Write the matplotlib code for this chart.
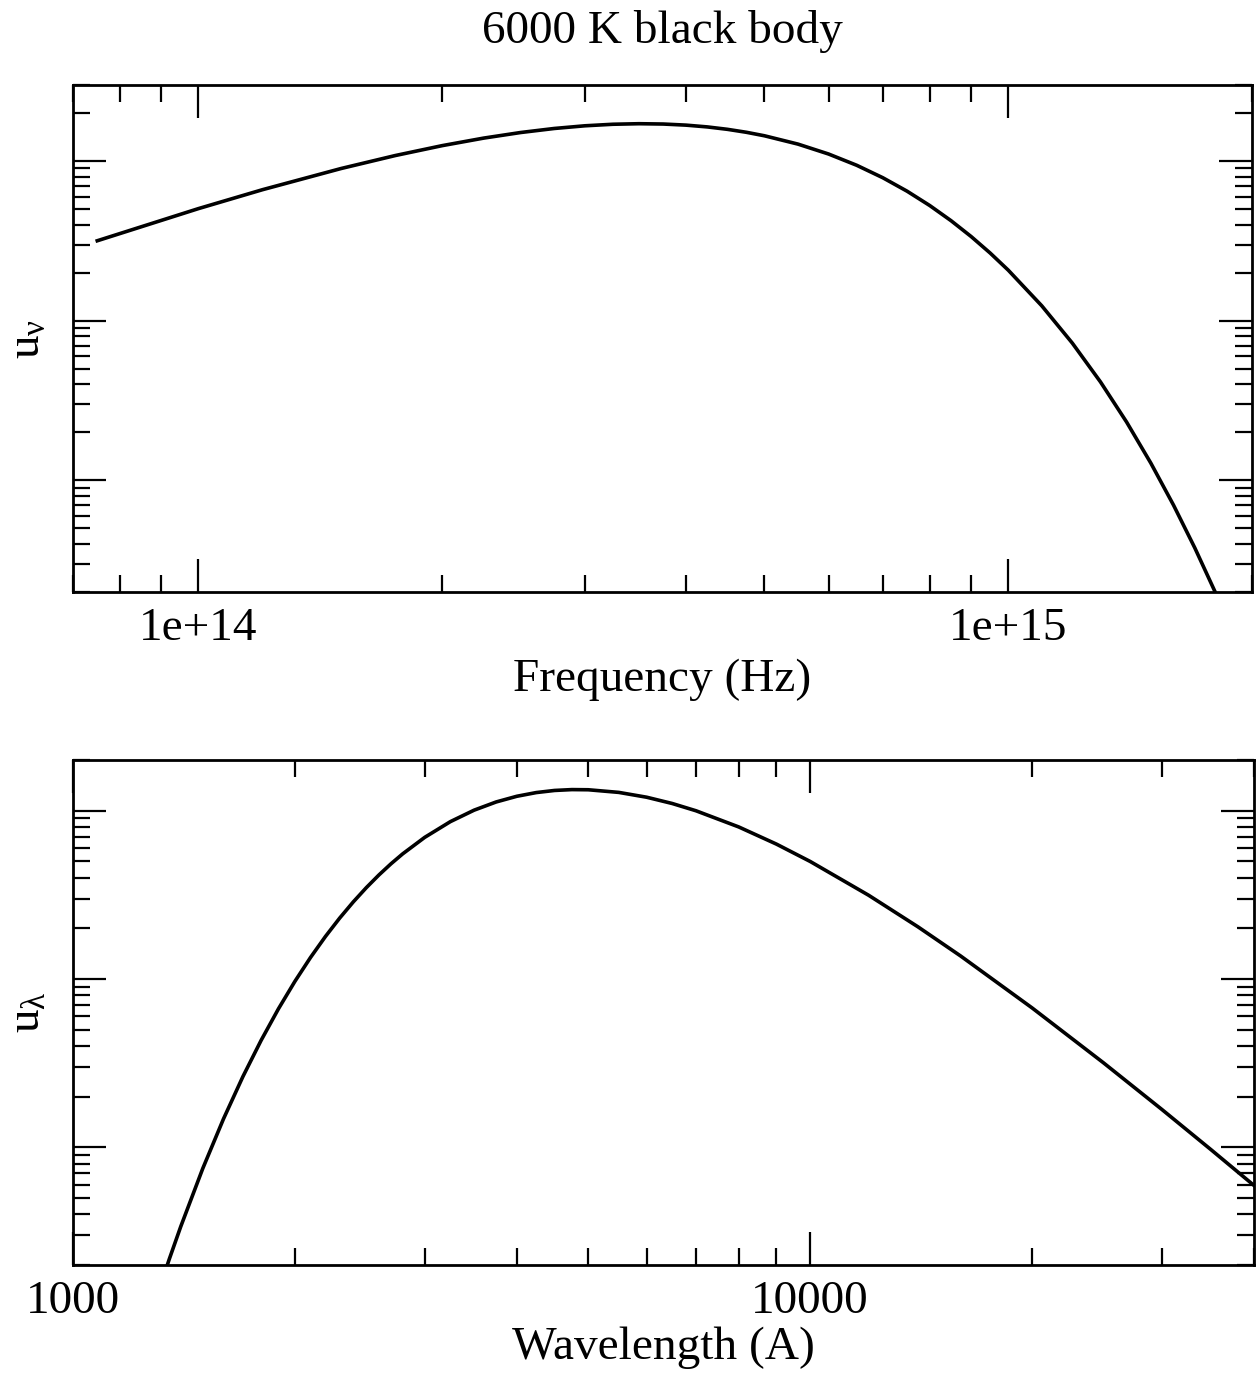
import matplotlib
matplotlib.use("Agg")
import matplotlib.pyplot as plt
from matplotlib.ticker import LogLocator, NullFormatter, FixedFormatter, FixedLocator

# ---------------- data ----------------
freq_hz = [7.5e13, 1.0e14, 1.2e14, 1.5e14, 1.75e14, 2.0e14, 2.25e14, 2.5e14,
           2.75e14, 3.0e14, 3.25e14, 3.5e14, 3.75e14, 4.0e14, 4.25e14, 4.5e14,
           4.75e14, 5.0e14, 5.5e14, 6.0e14, 6.5e14, 7.0e14, 7.5e14, 8.0e14,
           8.5e14, 9.0e14, 9.5e14, 1.0e15, 1.1e15, 1.2e15, 1.3e15, 1.4e15,
           1.5e15, 1.6e15, 1.7e15, 1.8e15, 1.9e15]
u_nu = [3.172e-16, 5.044e-16, 6.628e-16, 8.992e-16, 1.0844e-15, 1.2511e-15,
        1.3945e-15, 1.5119e-15, 1.6022e-15, 1.6654e-15, 1.7029e-15, 1.7164e-15,
        1.7084e-15, 1.6816e-15, 1.6388e-15, 1.5829e-15, 1.5165e-15, 1.4422e-15,
        1.2789e-15, 1.1085e-15, 9.422e-16, 7.875e-16, 6.485e-16, 5.272e-16,
        4.236e-16, 3.370e-16, 2.6562e-16, 2.0765e-16, 1.2418e-16, 7.244e-17,
        4.139e-17, 2.3230e-17, 1.2840e-17, 7.003e-18, 3.775e-18, 2.0135e-18,
        1.0642e-18]

wavelength_A = [1300, 1350, 1400, 1500, 1600, 1700, 1800, 1900, 2000, 2100,
                2200, 2300, 2400, 2500, 2600, 2700, 2800, 3000, 3250, 3500,
                3750, 4000, 4250, 4500, 4750, 5000, 5500, 6000, 6500, 7000,
                8000, 9000, 10000, 12000, 14000, 16000, 20000, 25000, 30000,
                35000, 40000]
u_lambda = [1311.3, 2149.9, 3380.3, 7499.9, 14751, 26307, 43279, 66587,
            96842, 134298, 178852, 230021, 287096, 349108, 414984, 483555,
            553663, 694158, 860592, 1.00682e6, 1.12657e6, 1.21770e6, 1.28088e6,
            1.31855e6, 1.33407e6, 1.33115e6, 1.28410e6, 1.20202e6, 1.10295e6,
            998694, 800447, 632884, 499213, 314648, 204259, 136976, 67342,
            31762, 16785, 9659.7, 5937.1]

freq_ticks = [1e14, 1e15]
freq_tick_labels = ["1e+14", "1e+15"]
wl_ticks = [1000, 10000]
wl_tick_labels = ["1000", "10000"]

title = "6000 K black body"
xlabel_top = "Frequency (Hz)"
xlabel_bot = "Wavelength (A)"
ylabel_top = r"$\mathrm{u}_{\mathrm{ν}}$"
ylabel_bot = r"$\mathrm{u}_{\mathrm{λ}}$"

# ---------------- style ----------------
plt.rcParams["font.family"] = ["Liberation Serif", "DejaVu Serif"]
plt.rcParams["mathtext.fontset"] = "custom"
plt.rcParams["mathtext.rm"] = "Liberation Serif"
plt.rcParams["mathtext.it"] = "Liberation Serif:italic"
FS = 34

W, H = 1257, 1378
fig = plt.figure(figsize=(W / 100, H / 100), dpi=100)


def px_axes(left, top, right, bottom):
    return fig.add_axes([left / W, 1 - bottom / H, (right - left) / W, (bottom - top) / H])


ax1 = px_axes(73, 85, 1252, 592)
ax2 = px_axes(73, 760, 1254, 1265)


def style(ax):
    ax.set_xscale("log")
    ax.set_yscale("log")
    for s in ax.spines.values():
        s.set_linewidth(2.0)
    ax.tick_params(which="both", direction="in", top=True, right=True,
                   labelsize=FS, pad=11)
    ax.tick_params(which="major", length=24, width=1.6)
    ax.tick_params(which="minor", length=12, width=1.6)
    ax.yaxis.set_major_locator(LogLocator(base=10, numticks=20))
    ax.yaxis.set_minor_locator(LogLocator(base=10, subs=range(2, 10), numticks=20))
    ax.yaxis.set_major_formatter(NullFormatter())
    ax.yaxis.set_minor_formatter(NullFormatter())
    ax.xaxis.set_minor_locator(LogLocator(base=10, subs=range(2, 10), numticks=20))
    ax.xaxis.set_minor_formatter(NullFormatter())


# top panel
style(ax1)
ax1.plot(freq_hz, u_nu, color="black", lw=2.6, solid_joinstyle="round")
ax1.set_xlim(7e13, 2e15)
ax1.set_ylim(2e-18, 3e-15)
ax1.xaxis.set_major_locator(FixedLocator(freq_ticks))
ax1.xaxis.set_major_formatter(FixedFormatter(freq_tick_labels))
ax1.set_xlabel(xlabel_top, fontsize=FS, labelpad=6)
ax1.set_ylabel(ylabel_top, fontsize=FS, labelpad=6)
ax1.set_title(title, fontsize=FS, pad=30)

# bottom panel
style(ax2)
ax2.plot(wavelength_A, u_lambda, color="black", lw=2.6, solid_joinstyle="round")
ax2.set_xlim(1000, 40000)
ax2.set_ylim(2e3, 2e6)
ax2.xaxis.set_major_locator(FixedLocator(wl_ticks))
ax2.xaxis.set_major_formatter(FixedFormatter(wl_tick_labels))
ax2.set_xlabel(xlabel_bot, fontsize=FS, labelpad=3)
ax2.set_ylabel(ylabel_bot, fontsize=FS, labelpad=6)

fig.savefig("out.png", dpi=100)
